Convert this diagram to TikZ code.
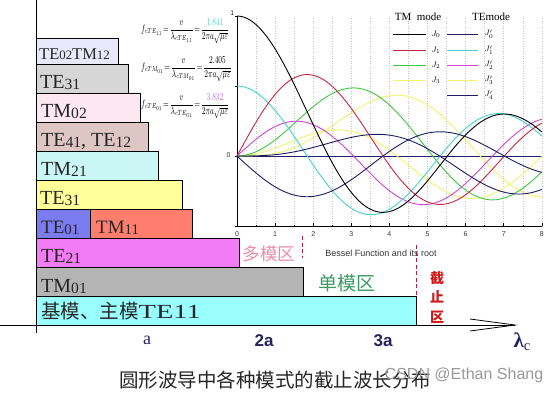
\documentclass[tikz,border=0pt]{standalone}
\usepackage{fontspec}
\usepackage{amsmath}
\usepackage{graphicx}
\usepackage{xfp}
\setmainfont{Liberation Serif}
\newfontfamily\cjk{Noto Sans CJK SC}
\newfontfamily\arial{Liberation Sans}

% ---------- Bessel functions by power series (l3fp) ----------
\def\fac#1{\ifcase\numexpr#1\relax 1\or 1\or 2\or 6\or 24\or 120\or 720\or 5040\or 40320\or 362880\or 3628800\or 39916800\or 479001600\or 6227020800\or 87178291200\or 1307674368000\or 20922789888000\or 355687428096000\or 6402373705728000\or 121645100408832000\or 2432902008176640000\or 51090942171709440000\or 1124000727777607680000\fi}
\def\bt#1#2#3{\ifodd#1 -\else +\fi((#3)/2)^(2*#1+#2)/(\fac{#1}*\fac{#1+#2})}
\def\BJ#1#2{(0\bt{0}{#1}{#2}\bt{1}{#1}{#2}\bt{2}{#1}{#2}\bt{3}{#1}{#2}\bt{4}{#1}{#2}\bt{5}{#1}{#2}\bt{6}{#1}{#2}\bt{7}{#1}{#2}\bt{8}{#1}{#2}\bt{9}{#1}{#2}\bt{10}{#1}{#2}\bt{11}{#1}{#2}\bt{12}{#1}{#2}\bt{13}{#1}{#2}\bt{14}{#1}{#2}\bt{15}{#1}{#2}\bt{16}{#1}{#2})}
\gdef\cJa{}\gdef\cJb{}\gdef\cJc{}\gdef\cJd{}
\gdef\cDa{}\gdef\cDb{}\gdef\cDc{}\gdef\cDd{}\gdef\cDe{}
\newcommand\addpt[2]{\xdef#1{#1 (\X,\fpeval{round(#2,4)})}}
\foreach \i in {0,...,80}{%
  \edef\X{\fpeval{\i/10}}%
  \edef\Xe{\fpeval{\i/10+0.0000001}}%
  \edef\Ja{\fpeval{\BJ{0}{\Xe}}}%
  \edef\Jb{\fpeval{\BJ{1}{\Xe}}}%
  \edef\Jc{\fpeval{\BJ{2}{\Xe}}}%
  \edef\Jd{\fpeval{\BJ{3}{\Xe}}}%
  \edef\Je{\fpeval{\BJ{4}{\Xe}}}%
  \edef\Jf{\fpeval{\BJ{5}{\Xe}}}%
  \addpt\cJa{\Ja}\addpt\cJb{\Jb}\addpt\cJc{\Jc}\addpt\cJd{\Jd}%
  \addpt\cDa{-(\Jb)/2}\addpt\cDb{(\Ja-(\Jc))/2}\addpt\cDc{(\Jb-(\Jd))/2}%
  \addpt\cDd{(\Jc-(\Je))/2}\addpt\cDe{(\Jd-(\Jf))/2}%
}
\newcommand\drawcurve[2]{\edef\tmpc{#2}\expandafter\drawcurvei\expandafter{\tmpc}{#1}}
\newcommand\drawcurvei[2]{\draw[#2] plot[smooth] coordinates {#1};}

% ---------- colours ----------
\definecolor{bA}{HTML}{E8E8FA}
\definecolor{bB}{HTML}{D6D6D6}
\definecolor{bC}{HTML}{FBE8F0}
\definecolor{bD}{HTML}{DEC6C4}
\definecolor{bE}{HTML}{CAF6F6}
\definecolor{bF}{HTML}{FFFF99}
\definecolor{bG}{HTML}{7C7CF0}
\definecolor{bH}{HTML}{FF7E6E}
\definecolor{bI}{HTML}{F27CF4}
\definecolor{bJ}{HTML}{B4B4B4}
\definecolor{bK}{HTML}{99FFFF}
\definecolor{cred}{HTML}{C82840}
\definecolor{cgreen}{HTML}{40C840}
\definecolor{cyel}{HTML}{F4F46C}
\definecolor{cnavy}{HTML}{1E1E66}
\definecolor{ccyan}{HTML}{44D2D2}
\definecolor{cmag}{HTML}{D044D0}
\definecolor{cviol}{HTML}{C070E0}
\definecolor{axblue}{HTML}{26245E}
\definecolor{pinkt}{HTML}{EE8CA6}
\definecolor{greent}{HTML}{3A9A62}
\definecolor{redt}{HTML}{D01818}
\definecolor{dashred}{HTML}{A8204C}

\newcommand\md[2]{#1\raisebox{-0.06em}{\scalebox{0.78}{#2}}}
\newcommand\fmla[2]{\scalebox{0.8}[1.18]{$\thickmuskip=2mu\displaystyle f_{c#1}=\frac{v}{\lambda_{c#1}}=\frac{#2}{2\pi a\sqrt{\mu\varepsilon}}$}}

\begin{document}
\begin{tikzpicture}[x=1pt,y=-1pt,
  bar/.style={draw=black, line width=0.8pt},
  lab/.style={anchor=base west, inner sep=0pt, text=black!85, font=\fontsize{20}{22}\selectfont},
  tick/.style={line width=0.5pt},
  ticklab/.style={inner sep=0pt, font=\arial\fontsize{7}{8}\selectfont, text=black!80},
  griddot/.style={gray!45, dotted, line width=0.5pt},
  crv/.style={line width=0.9pt},
  leg/.style={line width=0.9pt},
  legtxt/.style={inner sep=0pt, font=\fontsize{11}{12}\selectfont},
  jlab/.style={inner sep=0pt, font=\fontsize{8}{9}\selectfont},
  fml/.style={anchor=west, inner sep=0pt, font=\fontsize{9}{10}\selectfont},
  axlab/.style={inner sep=0pt, text=axblue},
  cjkt/.style={inner sep=0pt, font=\cjk\fontsize{18}{20}\selectfont},
  regdash/.style={dashed, dash pattern=on 4pt off 2.5pt, line width=0.9pt, dashred}
]
\useasboundingbox (0,0) rectangle (559,392);
\fill[white] (0,0) rectangle (559,392);

% ---------------- Bessel plot ----------------
\begin{scope}[shift={(237pt,-156pt)}, x=38.1pt, y=140pt]
  \foreach \g in {0.5,1,...,8} \draw[griddot] (\g,-0.5) -- (\g,1);
  \draw[line width=0.7pt] (0,1.0) -- (0,-0.5) -- (8,-0.5);
  \foreach \k in {0,...,8} {
    \draw[tick] (\k,-0.5) -- (\k,-0.48);
    \node[ticklab] (xt\k) at (\k,-0.56) {\k};
  }
  \foreach \k in {0.5,1.5,...,7.5} \draw[tick] (\k,-0.5) -- (\k,-0.49);
  \foreach \v in {-0.5,0,0.5,1} \draw[tick] (-0.06,\v) -- (0,\v);
  \node[ticklab] (yt1) at (-0.12,1.02) {1};
  \node[ticklab] (yt0) at (-0.22,0.01) {0};
  \draw[cnavy, crv] (0,0) -- (8,0);
  \drawcurve{crv, cyel}{\cJd}
  \drawcurve{crv, cyel}{\cDd}
  \drawcurve{crv, cgreen}{\cJc}
  \drawcurve{crv, cmag}{\cDc}
  \drawcurve{crv, ccyan}{\cDb}
  \drawcurve{crv, cred}{\cJb}
  \drawcurve{crv, cnavy}{\cDa}
  \drawcurve{crv, cnavy}{\cDe}
  \drawcurve{crv, black}{\cJa}
\end{scope}

% legend
\node[legtxt] (tmmode) at (418,17) {TM\ \ mode};
\node[legtxt] (temode) at (491,17) {TEmode};
\foreach \yy/\cc/\nn in {34/black/0, 50/cred/1, 65/cgreen/2, 80/cyel/3} {
  \draw[leg, \cc] (393,\yy) -- (426,\yy);
  \node[jlab] (jm\nn) at (436,\yy) {$J_{\nn}$};
}
\foreach \yy/\cc/\nn in {34/cnavy/0, 50/ccyan/1, 65/cmag/2, 80/cyel/3, 95/cnavy/4} {
  \draw[leg, \cc] (447,\yy) -- (478,\yy);
  \node[jlab] (je\nn) at (489,\yy) {$J'_{\nn}$};
}

% formulas
\node[fml] (f1) at (141,31) {\fmla{TE_{11}}{\textcolor{ccyan}{1.841}}};
\node[fml] (f2) at (141,69) {\fmla{TM_{01}}{2.405}};
\node[fml] (f3) at (141,106) {\fmla{TE_{01}}{\textcolor{cviol}{3.832}}};

% ---------------- bars ----------------
\draw[line width=0.8pt] (36,0) -- (36,333);
\draw[bar, fill=bA] (36,38) rectangle (118,64);
\node[lab, font=\fontsize{16.5}{18}\selectfont] (l1) at (39,59) {\md{TE}{02}\md{TM}{12}};
\draw[bar, fill=bB] (36,64) rectangle (128,93);
\node[lab] (l2) at (40,88) {\md{TE}{31}};
\draw[bar, fill=bC] (36,93) rectangle (140,122);
\node[lab] (l3) at (41,117) {\md{TM}{02}};
\draw[bar, fill=bD] (36,122) rectangle (148,151);
\node[lab] (l4) at (41,146) {\md{TE}{41}, \md{TE}{12}};
\draw[bar, fill=bE] (36,151) rectangle (158,180);
\node[lab] (l5) at (41,175) {\md{TM}{21}};
\draw[bar, fill=bF] (36,180) rectangle (182,209);
\node[lab] (l6) at (40,204) {\md{TE}{31}};
\draw[bar, fill=bG] (36,209) rectangle (90,238);
\node[lab, font=\fontsize{19}{21}\selectfont] (l7) at (41,233) {\md{TE}{01}};
\draw[bar, fill=bH] (90,209) rectangle (192,238);
\node[lab, font=\fontsize{19}{21}\selectfont] (l8) at (96,233) {\md{TM}{11}};
\draw[bar, fill=bI] (36,238) rectangle (239,267);
\node[lab] (l9) at (41,262) {\md{TE}{21}};
\draw[bar, fill=bJ] (36,267) rectangle (303,296);
\node[lab] (l10) at (41,292) {\md{TM}{01}};
\draw[bar, fill=bK] (36,296) rectangle (416,325);
\node[lab] (l11) at (41,318) {{\cjk\fontsize{19.5}{21}\selectfont 基模、主模}\scalebox{1.42}[1]{TE11}};

% base axis
\coordinate (ax0) at (0,325);
\coordinate (axe) at (515,325);
\coordinate (aru) at (470,319);
\coordinate (ard) at (470,331);
\draw[line width=0.8pt] (ax0) -- (axe);
\draw[line width=0.8pt] (aru) -- (axe) -- (ard);

% region labels
\coordinate (d1a) at (302,236); \coordinate (d1b) at (302,258);
\draw[regdash] (d1a) -- (d1b);
\coordinate (d2a) at (416,245); \coordinate (d2b) at (416,296);
\draw[regdash] (d2a) -- (d2b);
\node[cjkt, text=pinkt, font=\cjk\fontsize{17.5}{19}\selectfont] (multi) at (269,254) {多模区};
\node[inner sep=0pt, font=\arial\fontsize{9}{10}\selectfont, text=black!80] (bess) at (381,253) {Bessel Function and its root};
\node[cjkt, text=greent, font=\cjk\fontsize{19}{21}\selectfont] (single) at (347,283) {单模区};
\node[inner sep=0pt, text=redt, font=\cjk\bfseries\fontsize{14}{19.5}\selectfont, align=center] (cut) at (437,297) {截\\止\\区};

% axis labels
\node[axlab, font=\fontsize{18}{20}\selectfont] (la) at (147,340) {a};
\node[axlab, font=\arial\bfseries\fontsize{17}{20}\selectfont] (l2a) at (264,341) {2a};
\node[axlab, font=\arial\bfseries\fontsize{17}{20}\selectfont] (l3a) at (383,341) {3a};
\node[axlab, font=\fontsize{21}{22}\selectfont] (llc) at (522,342) {\textbf{λ}\raisebox{-0.15em}{\scalebox{0.7}{c}}};

% caption and watermark
\node[inner sep=0pt, font=\cjk\fontsize{19.5}{21}\selectfont, text=black!85] (cap) at (275,380) {圆形波导中各种模式的截止波长分布};
\node[inner sep=0pt, font=\arial\fontsize{16}{18}\selectfont, text=black!40] (wm) at (464,375) {CSDN @Ethan Shang};
\end{tikzpicture}
\end{document}
